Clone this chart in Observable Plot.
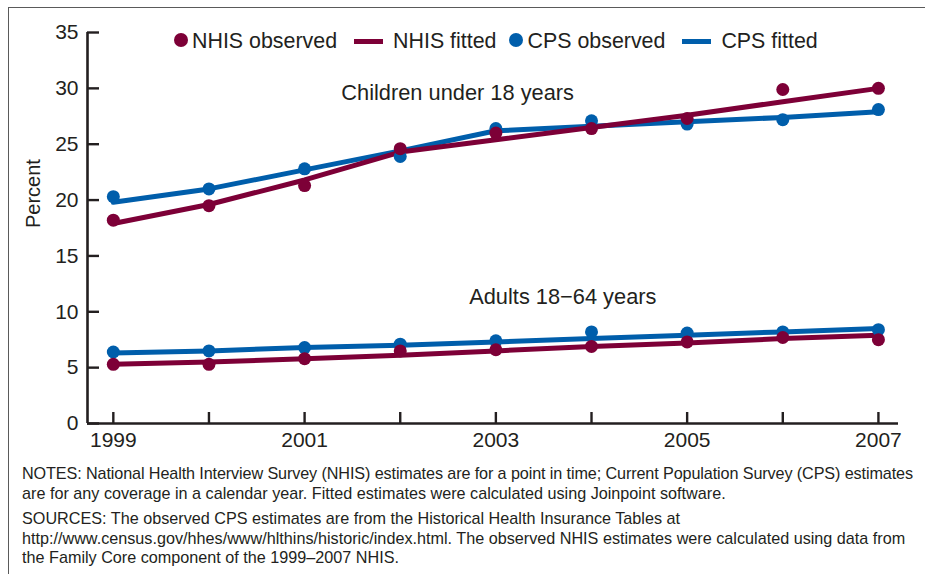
<!DOCTYPE html>
<html>
<head>
<meta charset="utf-8">
<script src="https://cdn.jsdelivr.net/npm/d3@7"></script>
<script src="https://cdn.jsdelivr.net/npm/@observablehq/plot@0.6"></script>
<style>
  html, body { margin: 0; padding: 0; background: #fff; }
  #wrap { position: relative; width: 925px; height: 574px; overflow: hidden; font-family: "Liberation Sans", Arial, Helvetica, sans-serif; color: #231f20; }
  #frame { position: absolute; left: 8px; top: 7px; width: 960px; height: 620px; border-left: 1.6px solid #5a5a5a; border-top: 1.6px solid #5a5a5a; }
  #chart { position: absolute; left: 0; top: 0; }
  #legend { position: absolute; top: 29px; left: 174px; display: flex; align-items: center; font-size: 21.4px; white-space: nowrap; }
  .item { display: flex; align-items: center; }
  .item.dotitem { margin-right: 17px; }
  .item.lineitem { margin-right: 13px; }
  .dot { width: 14px; height: 14px; border-radius: 50%; margin-right: 4px; margin-top: -4px; }
  .swatch { width: 29px; height: 5px; margin-right: 10px; }
  #notes { position: absolute; left: 22px; top: 464px; font-size: 16.2px; line-height: 19.5px; white-space: nowrap; }
  #notes p { margin: 0 0 6px 0; }
  #notes .tight { letter-spacing: -0.115px; }
</style>
</head>
<body>
<div id="wrap">
  <div id="frame"></div>
  <div id="chart"></div>
  <div id="legend"></div>
  <div id="notes">
    <p><span class="tight">NOTES: National Health Interview Survey (NHIS) estimates are for a point in time; Current Population Survey (CPS) estimates</span><br>are for any coverage in a calendar year. Fitted estimates were calculated using Joinpoint software.</p>
    <p>SOURCES: The observed CPS estimates are from the Historical Health Insurance Tables at<br>http://www.census.gov/hhes/www/hlthins/historic/index.html. The observed NHIS estimates were calculated using data from<br>the Family Core component of the 1999–2007 NHIS.</p>
  </div>
</div>
<script>
// Survey years
const years = [1999, 2000, 2001, 2002, 2003, 2004, 2005, 2006, 2007];
const labelYears = [1999, 2001, 2003, 2005, 2007];
const yTicks = [0, 5, 10, 15, 20, 25, 30, 35];

// Children under 18 years (percent)
const childNhisObserved = [18.2, 19.5, 21.3, 24.6, 26.0, 26.4, 27.3, 29.9, 30.0];
const childNhisFitted   = [17.9, 19.6, 21.8, 24.3, 25.4, 26.5, 27.6, 28.8, 30.0];
const childCpsObserved  = [20.3, 21.0, 22.8, 23.9, 26.4, 27.1, 26.8, 27.2, 28.1];
const childCpsFitted    = [19.8, 21.0, 22.7, 24.4, 26.2, 26.6, 27.0, 27.4, 27.9];

// Adults 18-64 years (percent)
const adultNhisObserved = [5.3, 5.3, 5.8, 6.5, 6.6, 6.9, 7.3, 7.7, 7.5];
const adultNhisFitted   = [5.3, 5.5, 5.8, 6.1, 6.5, 6.9, 7.2, 7.6, 7.9];
const adultCpsObserved  = [6.4, 6.5, 6.8, 7.1, 7.4, 8.2, 8.1, 8.2, 8.4];
const adultCpsFitted    = [6.3, 6.5, 6.8, 7.0, 7.3, 7.6, 7.9, 8.2, 8.5];

const groupLabels = [
  {text: "Children under 18 years", year: 2002.6, value: 29.6},
  {text: "Adults 18\u221264 years", year: 2003.7, value: 11.3}
];

const colors = {NHIS: "#7d0037", CPS: "#005eab"};
const ink = "#231f20";
const xDomain = [1998.73, 2007.21];
const yDomain = [0, 35];

function rows(values, source, group) {
  return values.map((v, i) => ({year: years[i], value: v, source, group}));
}

const fitted = {
  NHIS: [...rows(childNhisFitted, "NHIS", "children"), ...rows(adultNhisFitted, "NHIS", "adults")],
  CPS: [...rows(childCpsFitted, "CPS", "children"), ...rows(adultCpsFitted, "CPS", "adults")]
};
const observed = {
  NHIS: [...rows(childNhisObserved, "NHIS", "children"), ...rows(adultNhisObserved, "NHIS", "adults")],
  CPS: [...rows(childCpsObserved, "CPS", "children"), ...rows(adultCpsObserved, "CPS", "adults")]
};

const chart = Plot.plot({
  width: 925,
  height: 460,
  marginLeft: 87,
  marginRight: 27,
  marginTop: 32,
  marginBottom: 37,
  style: {fontFamily: "'Liberation Sans', Arial, Helvetica, sans-serif", fontSize: "20px", color: ink, background: "transparent", overflow: "visible"},
  x: {domain: xDomain},
  y: {domain: yDomain},
  marks: [
    // axis lines
    Plot.ruleX([xDomain[0]], {stroke: ink, strokeWidth: 2.6}),
    Plot.ruleY([0], {stroke: ink, strokeWidth: 2.6}),
    // inward ticks
    Plot.axisY({ticks: yTicks, tickSize: -12, tickFormat: () => "", strokeWidth: 2.4, stroke: ink, label: null}),
    Plot.axisY({ticks: yTicks, tickSize: 0, tickPadding: 9, fontSize: 21, fill: ink, label: null}),
    Plot.axisX({ticks: years, tickSize: -11, tickFormat: () => "", strokeWidth: 2.4, stroke: ink, label: null}),
    Plot.axisX({ticks: labelYears, tickSize: 0, tickPadding: 9, tickFormat: d => String(d), fontSize: 21, fill: ink, label: null}),
    Plot.text(["Percent"], {frameAnchor: "left", dx: -54, rotate: -90, fontSize: 20, fill: ink}),
    // fitted lines
    Plot.line(fitted.CPS, {x: "year", y: "value", z: "group", stroke: colors.CPS, strokeWidth: 5}),
    Plot.line(fitted.NHIS, {x: "year", y: "value", z: "group", stroke: colors.NHIS, strokeWidth: 5}),
    // observed points
    Plot.dot(observed.CPS, {x: "year", y: "value", r: 6.5, fill: colors.CPS}),
    Plot.dot(observed.NHIS, {x: "year", y: "value", r: 6.5, fill: colors.NHIS}),
    // group annotations
    Plot.text(groupLabels, {x: "year", y: "value", text: "text", fontSize: 21.8, fill: ink})
  ]
});
document.getElementById("chart").appendChild(chart);

// legend
const legendItems = [
  {label: "NHIS observed", kind: "dot", color: colors.NHIS},
  {label: "NHIS fitted", kind: "line", color: colors.NHIS},
  {label: "CPS observed", kind: "dot", color: colors.CPS},
  {label: "CPS fitted", kind: "line", color: colors.CPS}
];
const legend = d3.select("#legend");
legendItems.forEach(d => {
  const item = legend.append("div").attr("class", "item " + (d.kind === "dot" ? "dotitem" : "lineitem"));
  item.append("div").attr("class", d.kind === "dot" ? "dot" : "swatch").style("background", d.color);
  item.append("span").text(d.label);
});
</script>
</body>
</html>
